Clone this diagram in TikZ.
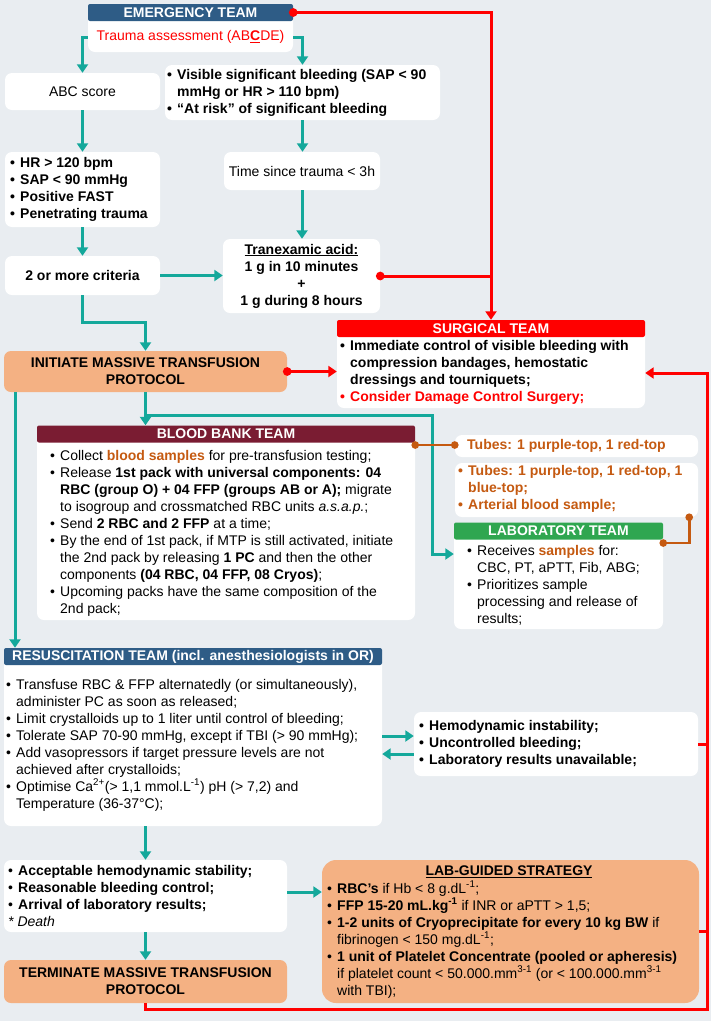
\documentclass[tikz,border=0pt]{standalone}
\usepackage{fontspec}
\setmainfont{Liberation Sans}
\usetikzlibrary{arrows.meta}
\definecolor{bgc}{HTML}{E9EDF1}
\definecolor{tl}{HTML}{14A89B}
\definecolor{otxt}{HTML}{C55A11}
\definecolor{ofill}{HTML}{F4B183}
\definecolor{hblue}{HTML}{2E5C86}
\definecolor{hdred}{HTML}{7A1C32}
\definecolor{hgreen}{HTML}{2FA650}
\definecolor{rd}{HTML}{FF0000}
\newcommand{\bpt}{\makebox[10pt][l]{\textbullet}}
\newcommand{\bind}{\hspace*{10pt}}
\tikzset{
  Dot/.tip={Circle[length=8.5pt]},
  >={Triangle[width=11pt,length=8.5pt]},
  wbox/.style={fill=white, rounded corners=7pt, inner sep=0pt, align=center, font=\fontsize{14}{17}\selectfont},
  obox/.style={fill=ofill, rounded corners=7pt, inner sep=0pt, align=center, font=\fontsize{14}{17}\selectfont\bfseries},
  hdr/.style={rounded corners=2pt, inner sep=0pt, minimum height=17pt, text=white, font=\fontsize{14}{17}\selectfont\bfseries},
  txt/.style={inner sep=0pt, align=left, anchor=west, font=\fontsize{14}{17}\selectfont},
  tarr/.style={draw=tl, line width=3pt, ->},
  rbase/.style={draw=rd, line width=3pt},
  oline/.style={draw=otxt, line width=2.6pt, {Circle[length=7.5pt]}-{Circle[length=7.5pt]}, shorten <=-3.7pt, shorten >=-3.7pt}
}
\begin{document}
\begin{tikzpicture}[x=1pt,y=-1pt]
\useasboundingbox (0,0) rectangle (714,1023);
\fill[white] (0,0) rectangle (714,1023);
\fill[bgc] (0,0) rectangle (711,1021);

% Emergency team
\node[wbox, minimum width=205pt, minimum height=48pt] (tab) at (190.5,28) {};
\node[hdr, fill=hblue, minimum width=205pt] (eh) at (190.5,12.5) {EMERGENCY TEAM};
\node[txt, anchor=center, text=rd] (tat) at (190.5,37) {Trauma assessment (AB\textbf{\underline{C}}DE)};

\node[wbox, minimum width=155pt, minimum height=37pt] (abc) at (82.5,91.5) {ABC score};
\node[wbox, minimum width=275pt, minimum height=55pt] (vis) at (302.5,92.5) {};
\node[txt, font=\fontsize{14}{17}\selectfont\bfseries] (vist) at (167,93) {\bpt Visible significant bleeding (SAP < 90\\ \bind mmHg or HR > 110 bpm)\\ \bpt “At risk” of significant bleeding};

\node[wbox, minimum width=155pt, minimum height=75pt] (crit) at (82.5,189.5) {};
\node[txt, font=\fontsize{14}{17}\selectfont\bfseries] (critt) at (10,189.5) {\bpt HR > 120 bpm\\ \bpt SAP < 90 mmHg\\ \bpt Positive FAST\\ \bpt Penetrating trauma};

\node[wbox, minimum width=156pt, minimum height=38pt] (time) at (302,171) {Time since trauma < 3h};
\node[wbox, minimum width=155pt, minimum height=39pt, font=\fontsize{14}{17}\selectfont\bfseries] (two) at (82.5,275.5) {2 or more criteria};
\node[wbox, minimum width=157pt, minimum height=74pt, font=\fontsize{14}{17}\selectfont\bfseries] (txa) at (301.5,276) {\underline{Tranexamic acid:}\\ 1 g in 10 minutes\\ +\\ 1 g during 8 hours};

\node[obox, minimum width=283pt, minimum height=41pt] (init) at (145.5,371.5) {INITIATE MASSIVE TRANSFUSION\\ PROTOCOL};

% Surgical team
\node[wbox, minimum width=308pt, minimum height=88pt] (surgb) at (491,364) {};
\node[hdr, fill=rd, minimum width=308pt] (surgh) at (491,328.5) {SURGICAL TEAM};
\node[txt, font=\fontsize{14}{17}\selectfont\bfseries] (surgt) at (340,372.5) {\bpt Immediate control of visible bleeding with\\ \bind compression bandages, hemostatic\\ \bind dressings and tourniquets;\\ \textcolor{rd}{\bpt Consider Damage Control Surgery;}};

% Blood bank team
\node[wbox, minimum width=378pt, minimum height=194pt] (bbb) at (226,523) {};
\node[hdr, fill=hdred, minimum width=378pt] (bbh) at (226,434) {BLOOD BANK TEAM};
\node[txt] (bbt) at (50,533.5) {\bpt Collect \textcolor{otxt}{\textbf{blood samples}} for pre-transfusion testing;\\
\bpt Release \textbf{1st pack with universal components: 04}\\
\bind\textbf{RBC (group O) + 04 FFP (groups AB or A);} migrate\\
\bind to isogroup and crossmatched RBC units \textit{a.s.a.p.};\\
\bpt Send \textbf{2 RBC and 2 FFP} at a time;\\
\bpt By the end of 1st pack, if MTP is still activated, initiate\\
\bind the 2nd pack by releasing \textbf{1 PC} and then the other\\
\bind components \textbf{(04 RBC, 04 FFP, 08 Cryos)};\\
\bpt Upcoming packs have the same composition of the\\
\bind 2nd pack;};

% Tubes
\node[wbox, minimum width=243pt, minimum height=22pt] (t1) at (576.5,446) {};
\node[txt, text=otxt, font=\fontsize{14}{17}\selectfont\bfseries] (t1t) at (467,446) {Tubes: 1 purple-top, 1 red-top};
\node[wbox, minimum width=243pt, minimum height=54pt] (t2) at (576.5,490) {};
\node[txt, text=otxt, font=\fontsize{14}{17}\selectfont\bfseries] (t2t) at (458,489) {\bpt Tubes: 1 purple-top, 1 red-top, 1\\ \bind blue-top;\\ \bpt Arterial blood sample;};

% Laboratory team
\node[wbox, minimum width=209pt, minimum height=106pt] (labb) at (558.5,576) {};
\node[hdr, fill=hgreen, minimum width=209pt] (labh) at (558.5,531) {LABORATORY TEAM};
\node[txt] (labt) at (467,585) {\bpt Receives \textcolor{otxt}{\textbf{samples}} for:\\ \bind CBC, PT, aPTT, Fib, ABG;\\ \bpt Prioritizes sample\\ \bind processing and release of\\ \bind results;};

% Resuscitation team
\node[wbox, minimum width=378pt, minimum height=178pt] (resb) at (193,737) {};
\node[hdr, fill=hblue, minimum width=378pt] (resh) at (193,656.5) {RESUSCITATION TEAM (incl. anesthesiologists in OR)};
\node[txt] (rest) at (6,745) {\bpt Transfuse RBC \& FFP alternatedly (or simultaneously),\\
\bind administer PC as soon as released;\\
\bpt Limit crystalloids up to 1 liter until control of bleeding;\\
\bpt Tolerate SAP 70-90 mmHg, except if TBI (> 90 mmHg);\\
\bpt Add vasopressors if target pressure levels are not\\
\bind achieved after crystalloids;\\
\bpt Optimise Ca\textsuperscript{2+}(> 1,1 mmol.L\textsuperscript{-1}) pH (> 7,2) and\\
\bind Temperature (36-37°C);};

\node[wbox, minimum width=284pt, minimum height=64pt] (hemo) at (556,744) {};
\node[txt, font=\fontsize{14}{17}\selectfont\bfseries] (hemot) at (419,744) {\bpt Hemodynamic instability;\\ \bpt Uncontrolled bleeding;\\ \bpt Laboratory results unavailable;};

\node[wbox, minimum width=283pt, minimum height=72pt] (acc) at (145.5,896) {};
\node[txt] (acct) at (8,896) {\bpt\textbf{Acceptable hemodynamic stability;}\\ \bpt\textbf{Reasonable bleeding control;}\\ \bpt\textbf{Arrival of laboratory results;}\\ \textit{* Death}};

\node[obox, rounded corners=14pt, minimum width=377pt, minimum height=143pt] (lg) at (510.5,931.5) {};
\node[txt, anchor=center, font=\fontsize{14}{17}\selectfont\bfseries] (lgtitle) at (509,872) {\underline{LAB-GUIDED STRATEGY}};
\node[txt] (lgl) at (327,939.5) {\bpt\textbf{RBC’s} if Hb < 8 g.dL\textsuperscript{-1};\\
\bpt\textbf{FFP 15-20 mL.kg\textsuperscript{-1}} if INR or aPTT > 1,5;\\
\bpt\textbf{1-2 units of Cryoprecipitate for every 10 kg BW} if\\
\bind fibrinogen < 150 mg.dL\textsuperscript{-1};\\
\bpt\textbf{1 unit of Platelet Concentrate (pooled or apheresis)}\\
\bind if platelet count < 50.000.mm\textsuperscript{3-1} (or < 100.000.mm\textsuperscript{3-1}\\
\bind with TBI);};

\node[obox, minimum width=283pt, minimum height=43pt] (term) at (145.5,981.5) {TERMINATE MASSIVE TRANSFUSION\\ PROTOCOL};

% Teal connectors
\draw[tarr] (tat -| tab.west) -| (abc.north);
\draw[tarr] (tat -| tab.east) -| (vis.north);
\draw[tarr] (abc.south) -- (crit.north);
\draw[tarr] (vis.south) -- (vis.south |- time.north);
\draw[tarr] (crit.south) -- (two.north);
\draw[tarr] (time.south) -- (time.south |- txa.north);
\draw[tarr] (two.east) -- (two.east -| txa.west);
\draw[tarr] (two.south) -- ++(0,27) -| (init.north);
\coordinate (j1) at (145.5,415);
\draw[tarr] (init.south) -- (init.south |- bbh.north);
\draw[tarr] (j1) -- (432,415) |- ([yshift=22pt]labb.west);
\draw[tarr] ([xshift=-130.5pt]init.south) coordinate (q1) -- (q1 |- resh.north);
\draw[tarr] ([yshift=1pt]resb.east) -- ([yshift=1pt]resb.east -| hemo.west);
\draw[tarr] ([yshift=-10pt]hemo.west) -- ([yshift=-10pt]hemo.west -| resb.east);
\draw[tarr] (resb.south -| acc.north) -- (acc.north);
\draw[tarr] ([yshift=4pt]acc.east) -- ([yshift=4pt]acc.east -| lg.west);
\draw[tarr] (acc.south) -- (term.north);

% Red connectors
\draw[rbase, Dot->, shorten <=-4.2pt] (eh.east) -| (surgh.north);
\draw[rbase, Dot-, shorten <=-4.2pt] (txa.east) -- (txa.east -| surgh.north);
\draw[rbase, Dot->, shorten <=-4.2pt] (init.east) -- (init.east -| surgb.west);
\coordinate (rc) at (707,1009);
\draw[rbase, ->] (term.south) |- (rc) |- ([yshift=-9pt]surgb.east);
\draw[rbase] (lg.east) -- (lg.east -| rc);
\draw[rbase] (hemo.east) -- (hemo.east -| rc);

% Orange connectors
\draw[oline] ([yshift=-11pt]bbh.east) -- ([yshift=-11pt]bbh.east -| t1.west);
\draw[oline] ([xshift=-9pt]t2.south east) |- ([yshift=33pt]labb.east);
\end{tikzpicture}
\end{document}
